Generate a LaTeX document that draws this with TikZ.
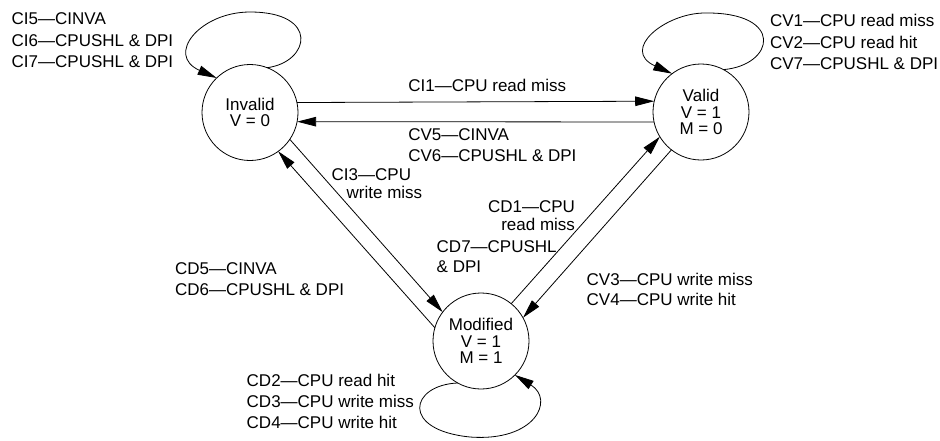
\documentclass[tikz,border=0pt]{standalone}
\usepackage{fontspec}
\setmainfont{Liberation Sans}
\usetikzlibrary{arrows.meta}
\newcommand{\lf}[1]{\fontsize{17}{#1}\selectfont}
\begin{document}
\begin{tikzpicture}[x=1pt,y=-1pt,
  state/.style={circle,draw,line width=0.8pt,minimum size=96pt,inner sep=0pt,outer sep=0pt,align=center,font=\lf{16.7}},
  lab/.style={inner sep=0pt,outer sep=0pt,align=left,anchor=north west},
  arr/.style={line width=0.8pt,-{Triangle[length=19pt,width=9.5pt]}}]
\useasboundingbox[fill=white] (0,0) rectangle (940,440);
% states
\node[state] (inv) at (250,112.5) {Invalid\\V = 0};
\node[state] (val) at (701,112) {Valid\\V = 1\\M = 0};
\node[state] (mod) at (481,341) {Modified\\V = 1\\M = 1};
% transitions
\draw[arr] (inv.12.6) -- (val.167.4);
\draw[arr] (val.192) -- (inv.-11.4);
\draw[arr] (inv.-34.5) -- (mod.143.4);
\draw[arr] (mod.164) -- (inv.-54.7);
\draw[arr] (mod.51) -- (val.211);
\draw[arr] (val.232.6) -- (mod.29.3);
% self loops
\draw[arr] (inv.69.5) .. controls (310,62) and (320,12) .. (250,12)
  .. controls (200,12) and (165,55) .. (inv.134.6);
\draw[arr] (val.62) .. controls (775,65) and (785,12) .. (705,13)
  .. controls (665,13) and (620,50) .. (val.127.8);
\draw[arr] (mod.241.4) .. controls (410,385) and (400,430) .. (470,437)
  .. controls (535,442) and (555,400) .. (mod.-45.8);
% labels
\node[lab,font=\lf{21.5}] (lci5) at (11.7,12.8) {CI5—CINVA\\CI6—CPUSHL \& DPI\\CI7—CPUSHL \& DPI};
\node[lab,font=\lf{21.5}] (lcv1) at (770,14.5) {CV1—CPU read miss\\CV2—CPU read hit\\CV7—CPUSHL \& DPI};
\node[lab,font=\lf{21}] (lci1) at (408.3,79.5) {CI1—CPU read miss};
\node[lab,font=\lf{20.7}] (lcv5) at (408.3,128.8) {CV5—CINVA\\CV6—CPUSHL \& DPI};
\node[lab,font=\lf{18.6}] (lci3) at (331.7,168.5) {CI3—CPU\\\hspace*{15pt}write miss};
\node[lab,font=\lf{18.3},align=right,anchor=north east] (lcd1) at (575,200.5) {CD1—CPU\\read miss};
\node[lab,font=\lf{20.6}] (lcd7) at (436.7,240.5) {CD7—CPUSHL\\\& DPI};
\node[lab,font=\lf{20.7}] (lcd5) at (175,262.8) {CD5—CINVA\\CD6—CPUSHL \& DPI};
\node[lab,font=\lf{20}] (lcv3) at (586.7,272.8) {CV3—CPU write miss\\CV4—CPU write hit};
\node[lab,font=\lf{21.2}] (lcd2) at (246.7,373.8) {CD2—CPU read hit\\CD3—CPU write miss\\CD4—CPU write hit};
\end{tikzpicture}
\end{document}
